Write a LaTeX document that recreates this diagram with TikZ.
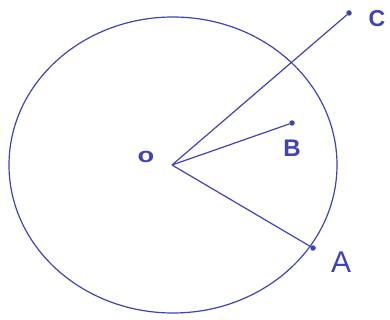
\documentclass[tikz,border=0pt]{standalone}
\usepackage{fontspec}
\setmainfont{Liberation Sans}
\setsansfont{Liberation Sans}
\definecolor{ink}{HTML}{3F42B8}
\begin{document}
\begin{tikzpicture}[x=1pt,y=-1pt,
  line/.style={draw=ink,line width=1.2pt},
  pt/.style={circle,fill=ink,inner sep=0pt,minimum size=5.5pt},
  lbl/.style={text=ink,inner sep=0pt}]
\useasboundingbox (0,0) rectangle (390,320);
\draw[line] (173,165) ellipse [x radius=164, y radius=148];
\coordinate (O) at (172,165);
\node[pt] (B) at (292,123) {};
\node[pt] (C) at (349,13) {};
\node[pt] (A) at (313,248) {};
\draw[line] (O) -- (C);
\draw[line] (O) -- (B);
\draw[line] (O) -- (A);
\node[lbl,font=\bfseries\fontsize{21}{21}\selectfont,xscale=1.3] (lO) at (146,157) {o};
\node[lbl,font=\bfseries\fontsize{24}{24}\selectfont] (lB) at (292,148) {B};
\node[lbl,font=\bfseries\fontsize{23}{23}\selectfont] (lC) at (377,19) {C};
\node[lbl,font=\fontsize{30}{30}\selectfont] (lA) at (341,262) {A};
\end{tikzpicture}
\end{document}
